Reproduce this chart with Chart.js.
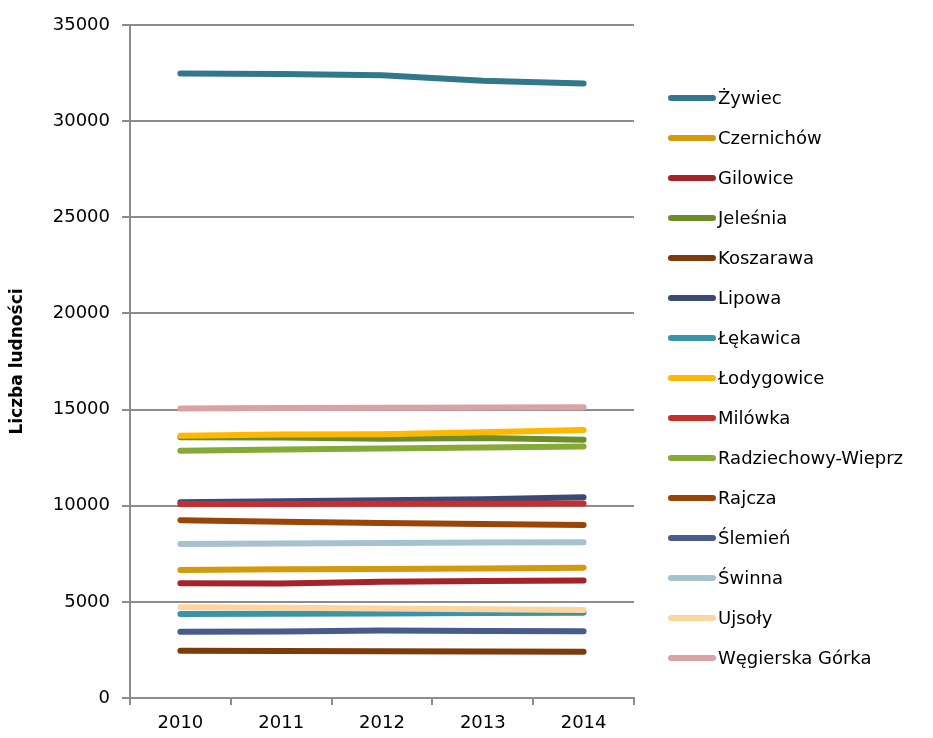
<!DOCTYPE html>
<html>
<head>
<meta charset="utf-8">
<script src="https://cdn.jsdelivr.net/npm/chart.js@4"></script>
<style>
  html, body { margin: 0; padding: 0; background: #fff; }
  #wrap { width: 933px; height: 738px; }
</style>
</head>
<body>
<div id="wrap"><canvas id="popChart"></canvas></div>
<script>
// lata
const years = ['2010', '2011', '2012', '2013', '2014'];

// liczba ludności wg gmin
const zywiec      = [32480, 32450, 32390, 32100, 31960];
const czernichow  = [6660, 6690, 6710, 6740, 6780];
const gilowice    = [5970, 5960, 6040, 6080, 6110];
const jelesnia    = [13560, 13550, 13480, 13520, 13430];
const koszarawa   = [2460, 2440, 2430, 2420, 2410];
const lipowa      = [10180, 10230, 10290, 10330, 10440];
const lekawica    = [4370, 4380, 4400, 4420, 4440];
const lodygowice  = [13640, 13700, 13720, 13820, 13940];
const milowka     = [10090, 10090, 10100, 10100, 10110];
const radziechowy = [12860, 12920, 12980, 13030, 13080];
const rajcza      = [9250, 9170, 9100, 9050, 9000];
const slemien     = [3450, 3460, 3510, 3480, 3470];
const swinna      = [8010, 8040, 8060, 8090, 8100];
const ujsoly      = [4720, 4690, 4650, 4610, 4580];
const wegierska   = [15050, 15080, 15100, 15110, 15120];

const yTicks = [0, 5000, 10000, 15000, 20000, 25000, 30000, 35000];

const series = [
  ['Żywiec', zywiec, '#31788a'],
  ['Czernichów', czernichow, '#d49a0c'],
  ['Gilowice', gilowice, '#a32429'],
  ['Jeleśnia', jelesnia, '#6b8e2a'],
  ['Koszarawa', koszarawa, '#7d3a0a'],
  ['Lipowa', lipowa, '#3b4a75'],
  ['Łękawica', lekawica, '#3a93a8'],
  ['Łodygowice', lodygowice, '#ffb800'],
  ['Milówka', milowka, '#c43030'],
  ['Radziechowy-Wieprz', radziechowy, '#86ab35'],
  ['Rajcza', rajcza, '#9a4508'],
  ['Ślemień', slemien, '#485b8f'],
  ['Świnna', swinna, '#a6c2ce'],
  ['Ujsoły', ujsoly, '#fdd59e'],
  ['Węgierska Górka', wegierska, '#d9a3a3']
];

const FONT = 'DejaVu Sans';
const GRID = '#8c8c8c';

// legenda po prawej, rysowana na canvasie jak w Excelu (linia + tekst)
const sideLegend = {
  id: 'sideLegend',
  afterDraw(chart) {
    const ctx = chart.ctx;
    ctx.save();
    ctx.font = '18px "' + FONT + '"';
    ctx.textBaseline = 'middle';
    ctx.textAlign = 'left';
    chart.data.datasets.forEach((ds, i) => {
      const y = 98 + i * 40;
      ctx.strokeStyle = ds.borderColor;
      ctx.lineWidth = 6;
      ctx.lineCap = 'round';
      ctx.beginPath();
      ctx.moveTo(671, y);
      ctx.lineTo(713, y);
      ctx.stroke();
      ctx.fillStyle = '#000';
      ctx.fillText(ds.label, 718, y + 1);
    });
    ctx.restore();
  }
};

new Chart(document.getElementById('popChart').getContext('2d'), {
  type: 'line',
  data: {
    labels: years,
    datasets: series.map(([name, vals, col], i) => ({
      label: name,
      data: vals,
      borderColor: col,
      backgroundColor: col,
      borderWidth: 6,
      borderCapStyle: 'round',
      borderJoinStyle: 'round',
      pointRadius: 0,
      tension: 0,
      order: -i
    }))
  },
  options: {
    responsive: true,
    maintainAspectRatio: false,
    animation: false,
    layout: { padding: { top: 25, right: 299, bottom: 0, left: 0 } },
    plugins: {
      tooltip: { enabled: false },
      legend: { display: false }
    },
    scales: {
      x: {
        offset: true,
        afterFit: s => { s.height = 40; },
        grid: { display: true, drawOnChartArea: false, offset: true, color: GRID, lineWidth: 2, tickLength: 7 },
        border: { color: GRID, width: 2 },
        ticks: { font: { family: FONT, size: 18 }, color: '#000', padding: 8 }
      },
      y: {
        min: 0,
        max: 35000,
        afterBuildTicks: s => { s.ticks = yTicks.map(v => ({ value: v })); },
        afterFit: s => { s.width = 130; },
        grid: { color: GRID, lineWidth: 2, tickLength: 8 },
        border: { color: GRID, width: 2 },
        ticks: {
          font: { family: FONT, size: 18 }, color: '#000', padding: 12,
          callback: v => String(v)
        },
        title: {
          display: true,
          text: 'Liczba ludności',
          font: { family: FONT, size: 17, weight: 'bold' },
          color: '#000',
          padding: { top: 7, bottom: 0 }
        }
      }
    }
  },
  plugins: [sideLegend]
});
</script>
</body>
</html>
